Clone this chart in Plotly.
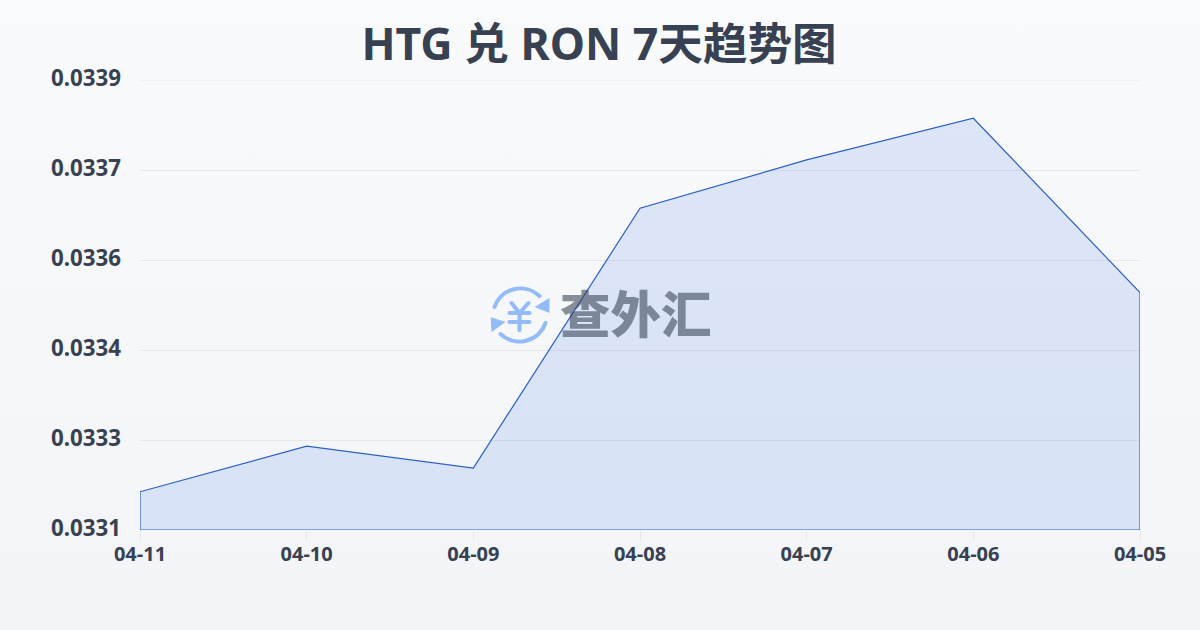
import base64
import plotly.graph_objects as go

dates = ["04-11", "04-10", "04-09", "04-08", "04-07", "04-06", "04-05"]
rates = [0.033168, 0.033249, 0.033210, 0.033672, 0.033758, 0.033832, 0.033522]
y_ticks = [0.0331, 0.03326, 0.03342, 0.03358, 0.03374, 0.0339]
y_labels = ["0.0331", "0.0333", "0.0334", "0.0336", "0.0337", "0.0339"]
title = "HTG 兑 RON 7天趋势图"
watermark = "查外汇"
base = y_ticks[0]

FONT = "'Noto Sans', 'Noto Sans CJK SC', sans-serif"
INK = "#374151"
GRID = "#e5e7eb"

def uri(svg):
    return "data:image/svg+xml;base64," + base64.b64encode(svg.encode()).decode()

bg = uri('<svg xmlns="http://www.w3.org/2000/svg" width="1200" height="630" preserveAspectRatio="none">'
         '<defs><linearGradient id="g" x1="0" y1="0" x2="0" y2="1"><stop offset="0" stop-color="#f9fafc"/>'
         '<stop offset="1" stop-color="#f2f4f7"/></linearGradient></defs>'
         '<rect width="1200" height="630" fill="url(#g)"/></svg>')

icon = uri('<svg xmlns="http://www.w3.org/2000/svg" viewBox="0 0 60 60" width="60" height="60">'
           '<g fill="none" stroke="#93bbf8" stroke-width="4" stroke-linecap="round" stroke-linejoin="round">'
           '<path d="M4 22 A27.5 27.5 0 0 1 49 11"/><path d="M55 38 A27.5 27.5 0 0 1 10 49"/>'
           '<path d="M21 18 L29 28 L38 18 M29 28 V45 M19 28 H39 M19 37 H39"/></g>'
           '<path d="M59 13 L59 28 L44 22 Z" fill="#93bbf8"/><path d="M0 32 L15 37 L1 47 Z" fill="#93bbf8"/></svg>')

fig = go.Figure()
fig.add_trace(go.Scatter(
    x=[dates[0]] + dates + [dates[-1], dates[0]],
    y=[base] + rates + [base, base],
    mode="lines", fill="toself", cliponaxis=False,
    fillcolor="rgba(37,99,235,0.13)",
    line=dict(color="#2b5fc7", width=1.2),
    hoverinfo="skip", showlegend=False,
))

fig.update_layout(
    width=1200, height=630, autosize=False,
    margin=dict(l=140, r=60, t=80, b=100),
    paper_bgcolor="#f6f7f9", plot_bgcolor="rgba(0,0,0,0)",
    font=dict(family=FONT, color=INK),
    title=dict(text=title, x=0.4992, xanchor="center", y=0.93, yanchor="middle",
               font=dict(size=44.6, family=FONT, color=INK, weight="bold")),
    xaxis=dict(type="category", categoryorder="array", categoryarray=dates, range=[0, 6],
               showgrid=False, zeroline=False, showline=False,
               ticks="outside", ticklen=10, tickcolor=GRID, tickwidth=1, ticklabelstandoff=-4,
               tickfont=dict(size=20, family=FONT, color=INK, weight="bold")),
    yaxis=dict(range=[y_ticks[0], y_ticks[-1]], tickmode="array", tickvals=y_ticks, ticktext=y_labels,
               showgrid=True, gridcolor=GRID, gridwidth=1, zeroline=False, showline=False,
               ticks="", ticklabelstandoff=18, ticklabelshift=-2,
               tickfont=dict(size=22.3, family=FONT, color=INK, weight="bold")),
    images=[
        dict(source=bg, xref="paper", yref="paper", x=-0.14, y=530/450, sizex=1.2, sizey=630/450,
             xanchor="left", yanchor="top", sizing="stretch", layer="below"),
        dict(source=icon, xref="paper", yref="paper", x=350.5/1000, y=(530-285)/450, sizex=0.06, sizey=60/450,
             xanchor="left", yanchor="top", sizing="stretch", layer="above"),
    ],
    shapes=[dict(type="line", xref="paper", yref="y", x0=0, x1=1, y0=y_ticks[-1], y1=y_ticks[-1],
                 layer="below", line=dict(color=GRID, width=1))],
    annotations=[dict(text=watermark, xref="paper", yref="paper", x=496/1000, y=(530-311)/450,
                      xanchor="center", yanchor="middle", showarrow=False,
                      font=dict(size=50.5, family="'Noto Sans CJK SC'", color="rgba(55,65,85,0.58)", weight=900))],
)
fig.write_html("out.html", config=dict(displayModeBar=False),
               post_script="document.body.style.margin='0';document.body.style.overflow='hidden';")
